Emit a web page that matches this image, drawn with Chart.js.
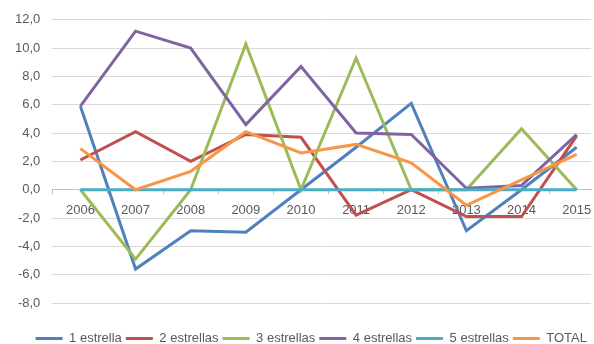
<!DOCTYPE html>
<html>
<head>
<meta charset="utf-8">
<script src="https://cdn.jsdelivr.net/npm/chart.js@4/dist/chart.umd.min.js"></script>
<style>
    html, body { margin: 0; padding: 0; background: #fff; overflow: hidden; }
    body { width: 594px; height: 344px; }
    canvas { display: block; }
</style>
</head>
<body>
<canvas id="chart" width="594" height="355"></canvas>
<script>
const years = ["2006", "2007", "2008", "2009", "2010", "2011", "2012", "2013", "2014", "2015"];
const seriesNames = ["1 estrella", "2 estrellas", "3 estrellas", "4 estrellas", "5 estrellas", "TOTAL"];
const estrella1 = [5.9, -5.6, -2.9, -3.0, 0.0, 3.0, 6.1, -2.9, 0.0, 3.0];
const estrella2 = [2.1, 4.1, 2.0, 3.9, 3.7, -1.8, 0.0, -1.9, -1.9, 3.8];
const estrella3 = [0.0, -4.9, 0.0, 10.3, 0.0, 9.3, 0.0, 0.0, 4.3, 0.0];
const estrella4 = [5.9, 11.2, 10.0, 4.6, 8.7, 4.0, 3.9, 0.1, 0.3, 3.9];
const estrella5 = [0.0, 0.0, 0.0, 0.0, 0.0, 0.0, 0.0, 0.0, 0.0, 0.0];
const total = [2.9, 0.0, 1.3, 4.1, 2.6, 3.2, 1.9, -1.1, 0.7, 2.5];
const yTicks = [-8, -6, -4, -2, 0, 2, 4, 6, 8, 10, 12];

const colors = ["#4F81BD", "#C0504D", "#9BBB59", "#8064A2", "#4BACC6", "#F79646"];
const allSeries = [estrella1, estrella2, estrella3, estrella4, estrella5, total];

Chart.defaults.font.family = "'Liberation Sans', Arial, sans-serif";
Chart.defaults.font.size = 13;
Chart.defaults.color = "#595959";

const datasets = allSeries.map(function (values, i) {
    return {
        label: seriesNames[i],
        data: values.map((v, j) => ({ x: Number(years[j]), y: v })),
        borderColor: colors[i],
        backgroundColor: colors[i],
        borderWidth: 3,
        pointRadius: 0,
        tension: 0,
        order: allSeries.length - 1 - i, // later series on top, like the original
    };
});

new Chart(document.getElementById("chart"), {
    type: "line",
    data: { datasets: datasets },
    options: {
        responsive: false,
        animation: false,
        layout: { padding: { top: 18, left: 3, right: 3, bottom: 0 } },
        scales: {
            x: {
                type: "linear",
                position: { y: 0 },
                min: Number(years[0]) - 0.51,
                max: Number(years[years.length - 1]) + 0.26,
                afterBuildTicks: function (scale) {
                    const t = [];
                    years.forEach(function (y) {
                        t.push({ value: Number(y) - 0.5 });
                        t.push({ value: Number(y) });
                    });
                    scale.ticks = t;
                },
                afterFit: function (scale) {
                    // labels sit inside the plot, no extra side padding
                    scale.paddingLeft = 0;
                    scale.paddingRight = 0;
                },
                ticks: {
                    autoSkip: false,
                    maxRotation: 0,
                    padding: 9,
                    color: "#595959",
                    callback: (v) => (Number.isInteger(v) ? String(v) : ""),
                },
                grid: {
                    drawOnChartArea: false,
                    tickLength: 4,
                    color: (ctx) => (ctx.tick && Number.isInteger(ctx.tick.value) ? "rgba(0,0,0,0)" : "#bfbfbf"),
                },
                border: { display: true, color: "#bfbfbf" },
            },
            y: {
                min: yTicks[0],
                max: yTicks[yTicks.length - 1],
                afterBuildTicks: function (scale) {
                    scale.ticks = yTicks.map((v) => ({ value: v }));
                },
                ticks: {
                    padding: 12,
                    color: "#595959",
                    callback: (v) => v.toFixed(1).replace(".", ","),
                },
                grid: { color: "#d9d9d9", drawTicks: false },
                border: { display: false },
            },
        },
        plugins: {
            legend: {
                position: "bottom",
                align: "end",
                title: { display: true, text: "", font: { size: 13, lineHeight: 1 }, padding: 6 },
                labels: {
                    boxWidth: 27,
                    boxHeight: 3,
                    padding: 4,
                    color: "#595959",
                    sort: (a, b) => a.datasetIndex - b.datasetIndex,
                    generateLabels: function (chart) {
                        const items = Chart.defaults.plugins.legend.labels.generateLabels(chart);
                        items.forEach(function (it) {
                            it.lineWidth = 0;
                            it.fillStyle = it.strokeStyle;
                        });
                        return items;
                    },
                },
            },
            tooltip: { enabled: false },
        },
    },
});
</script>
</body>
</html>
